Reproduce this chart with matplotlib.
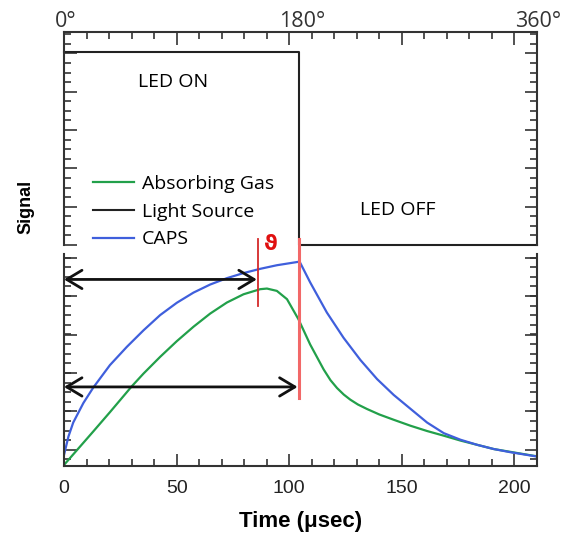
import matplotlib
matplotlib.use("Agg")
import matplotlib.pyplot as plt
import matplotlib.ticker as mticker
import numpy as np

# ── data ────────────────────────────────────────────────────
light_t = [0, 104.5, 104.5, 210]
light_v = [5.04, 5.04, 0, 0]

caps_t = [0, 2, 4.1, 8.6, 13, 20.4, 27.9, 35.3, 42.7, 50.1, 57.5, 64.9, 72.3, 79.7, 87.1, 94.5,
          104.6, 109.3, 116.7, 124.1, 131.6, 139, 146.4, 153.8, 161.2, 168.6, 176, 183.4,
          190.8, 198.2, 208.6, 210]
caps_v = [0.052, 0.14, 0.205, 0.297, 0.37, 0.476, 0.562, 0.64, 0.712, 0.77, 0.818, 0.856, 0.886,
          0.91, 0.93, 0.947, 0.964, 0.866, 0.724, 0.605, 0.50, 0.41, 0.335, 0.27, 0.205,
          0.155, 0.124, 0.1, 0.08, 0.065, 0.047, 0.045]

gas_t = [0, 13, 20.4, 30.1, 35.3, 42.7, 50.1, 57.5, 64.9, 72.3, 79.7, 87.1, 90.1, 94.5, 99,
         104.1, 109.3, 115.3, 118.3, 121.2, 124.2, 127.1, 130.5, 134.5, 140, 146.4, 153.8,
         161.2, 168.6, 176, 190.8, 208.6, 210]
gas_v = [0.005, 0.163, 0.254, 0.376, 0.436, 0.515, 0.589, 0.657, 0.719, 0.771, 0.81, 0.834,
         0.837, 0.826, 0.787, 0.692, 0.573, 0.455, 0.405, 0.368, 0.337, 0.313, 0.29, 0.269,
         0.243, 0.218, 0.19, 0.165, 0.143, 0.12, 0.08, 0.048, 0.046]

arrow_ends = [85.6, 103.7]
arrow_levels = [0.88, 0.373]
phase_t = [86, 104.4]
phase_labels = ["0\u00b0", "180\u00b0", "360\u00b0"]
phase_pos = [0, 105, 210]

W, H = 563, 534
fig = plt.figure(figsize=(W / 100, H / 100), dpi=100)

def frac(x0, y0, x1, y1):
    return [x0 / W, 1 - y1 / H, (x1 - x0) / W, (y1 - y0) / H]

ax_top = fig.add_axes(frac(64, 32, 537, 245))
ax_bot = fig.add_axes(frac(64, 254, 537, 466))

spine_c = "#333333"
for ax in (ax_top, ax_bot):
    ax.set_xlim(0, 210)
    ax.xaxis.set_major_locator(mticker.MultipleLocator(50))
    ax.xaxis.set_minor_locator(mticker.MultipleLocator(10))
    ax.tick_params(which="both", direction="in", color=spine_c, width=1.2,
                   left=True, right=True, labelleft=False)
    ax.tick_params(which="major", length=9)
    ax.tick_params(which="minor", length=5)
    for s in ax.spines.values():
        s.set_color(spine_c)
        s.set_linewidth(1.5)

# top panel: light source
ax_top.set_ylim(0, 5.56)
ax_top.spines["bottom"].set_visible(False)
ax_top.tick_params(which="both", top=True, bottom=False, labelbottom=False)
ax_top.yaxis.set_major_locator(mticker.MultipleLocator(1))
ax_top.yaxis.set_minor_locator(mticker.MultipleLocator(0.25))
light, = ax_top.plot(light_t, light_v, color="#222222", lw=1.5, clip_on=False,
                     label="Light Source")

txt_font = "Open Sans"
ax_top.text(48.4, 4.26, "LED ON", family=txt_font, fontsize=14, ha="center", va="center")
ax_top.text(148, 0.91, "LED OFF", family=txt_font, fontsize=14, ha="center", va="center")
for p, lab in zip(phase_pos, phase_labels):
    ax_top.annotate(lab, xy=(p, 1), xycoords=("data", "axes fraction"),
                    xytext=(1, 0), textcoords="offset points",
                    family=txt_font, fontsize=15.5, ha="center", va="bottom", color="#333333")

# bottom panel: signals
ax_bot.set_ylim(0, 1)
ax_bot.spines["top"].set_visible(False)
ax_bot.tick_params(which="both", top=False, bottom=True, labelbottom=True,
                   labelsize=14, pad=10, labelcolor="#222222")
ax_bot.yaxis.set_major_locator(mticker.FixedLocator(np.arange(0.0767, 1.0, 0.181)))
ax_bot.yaxis.set_minor_locator(mticker.FixedLocator(np.arange(0.0314, 1.0, 0.0453)))
for lab in ax_bot.get_xticklabels():
    lab.set_family("Liberation Sans")

gas, = ax_bot.plot(gas_t, gas_v, color="#22a04a", lw=1.6, label="Absorbing Gas")
caps, = ax_bot.plot(caps_t, caps_v, color="#3f5fdc", lw=1.6, label="CAPS")

for end, lvl in zip(arrow_ends, arrow_levels):
    ax_bot.annotate("", xy=(end, lvl), xytext=(0, lvl),
                    arrowprops=dict(arrowstyle="<->,head_length=0.5,head_width=0.3",
                                    color="#111111", lw=2, shrinkA=0, shrinkB=0,
                                    mutation_scale=22))

ax_bot.plot([phase_t[0], phase_t[0]], [0.754, 1.071], color="#d42a2a", lw=1.3, clip_on=False)
ax_bot.plot([phase_t[1], phase_t[1]], [0.322, 1.071], color="#f26868", lw=2.2, clip_on=False)
ax_bot.text(92, 1.047, "\u03d1", color="#e01010", fontsize=15, fontweight="bold",
            ha="center", va="center", clip_on=False)

ax_bot.set_xlabel("Time (\u03bcsec)", family="Liberation Sans", fontsize=16,
                  fontweight="bold", labelpad=10)
fig.text(26 / W, 1 - 207 / H, "Signal", family="Liberation Sans", fontsize=13,
         fontweight="bold", rotation=90, ha="center", va="center")

fig.legend(handles=[gas, light, caps], loc="upper left",
           bbox_to_anchor=(93 / W, 1 - 175 / H), frameon=False,
           prop=dict(family=txt_font, size=14), handlelength=2.1,
           handletextpad=0.4, labelspacing=0.5, borderpad=0, borderaxespad=0)

fig.savefig("out.png", dpi=100)
